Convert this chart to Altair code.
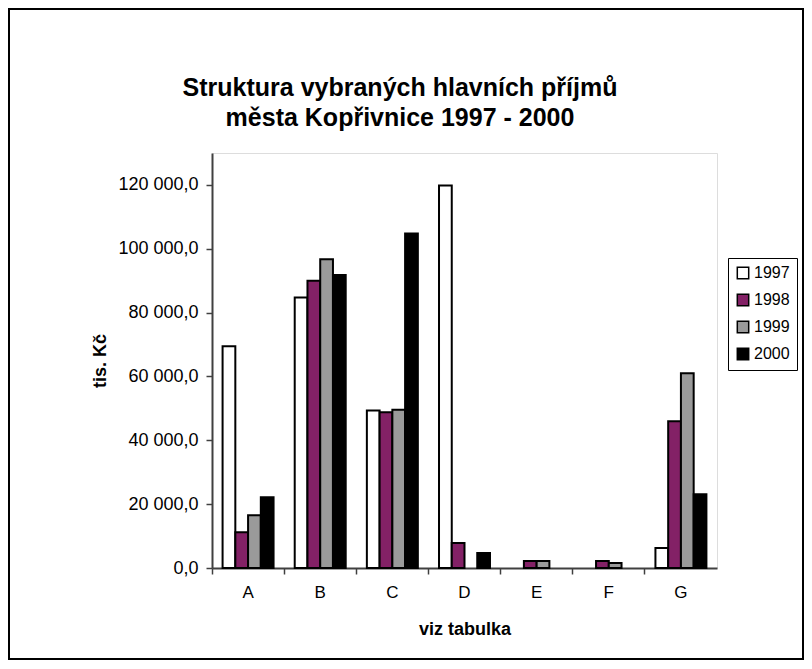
import altair as alt
import pandas as pd

categories = ["A", "B", "C", "D", "E", "F", "G"]
years = ["1997", "1998", "1999", "2000"]
v1997 = [69500, 84700, 49300, 119800, 0, 0, 6300]
v1998 = [11200, 90000, 48800, 7800, 2200, 2200, 46000]
v1999 = [16500, 96700, 49600, 0, 2200, 1600, 61000]
v2000 = [22200, 91800, 104800, 4700, 0, 0, 23100]
y_ticks = [0, 20000, 40000, 60000, 80000, 100000, 120000]
colors = ["#ffffff", "#832166", "#9a9a9a", "#000000"]
title_lines = ["Struktura vybraných hlavních příjmů", "města Kopřivnice 1997 - 2000"]

series = {"1997": v1997, "1998": v1998, "1999": v1999, "2000": v2000}
rows = []
for yr in years:
    for c, v in zip(categories, series[yr]):
        rows.append({"cat": c, "year": yr, "value": v})
df = pd.DataFrame(rows)

FONT = "Liberation Sans"
W, H = 505, 415
PL, PT = 204, 145
TOTW, TOTH = 796, 652
PR = TOTW - PL - W
PB = TOTH - PT - H

bars = alt.Chart(df).transform_filter("datum.value > 0").mark_bar(
    stroke="black", strokeWidth=2
).encode(
    x=alt.X("cat:N", sort=categories,
            scale=alt.Scale(domain=categories, paddingInner=0, paddingOuter=0),
            axis=alt.Axis(title="viz tabulka", bandPosition=0, labelAngle=0,
                          labelFontSize=17, labelFont=FONT, labelColor="black",
                          labelPadding=10, titleFontSize=18, titleFont=FONT,
                          titleFontWeight="bold", titleColor="black", titlePadding=20,
                          tickSize=6, tickColor="#404040", tickWidth=1.5,
                          domainColor="#404040", domainWidth=2)),
    xOffset=alt.XOffset("year:N", sort=years,
                        scale=alt.Scale(domain=years, paddingInner=0, paddingOuter=0.83)),
    y=alt.Y("value:Q",
            scale=alt.Scale(domain=[0, 130000], nice=False, zero=True),
            axis=alt.Axis(title="tis. Kč", values=y_ticks, grid=False,
                          labelExpr="replace(replace(format(datum.value, ',.1f'), ',', ' '), '.', ',')",
                          labelFontSize=18, labelFont=FONT, labelColor="black",
                          labelPadding=8, titleFontSize=18, titleFont=FONT,
                          titleFontWeight="bold", titleColor="black", titlePadding=8,
                          tickSize=6, tickColor="#404040", tickWidth=1.5,
                          domainColor="#404040", domainWidth=2)),
    fill=alt.Fill("year:N", sort=years,
                  scale=alt.Scale(domain=years, range=colors),
                  legend=alt.Legend(title=None, orient="none", legendX=516, legendY=105,
                                    symbolType="square", symbolSize=130,
                                    symbolStrokeColor="black", symbolStrokeWidth=1.5,
                                    labelFontSize=16, labelFont=FONT, labelColor="black",
                                    rowPadding=9, padding=7, strokeColor="black",
                                    fillColor="white", labelOffset=3)),
)

one = pd.DataFrame({"a": [0]})
border = alt.Chart(one).mark_rect(
    fillOpacity=0, stroke="black", strokeWidth=2
).encode(
    x=alt.value(-PL + 1), x2=alt.value(TOTW - PL - 1),
    y=alt.value(-PT + 1), y2=alt.value(TOTH - PT - 1),
)

title1 = alt.Chart(one).mark_text(
    text=title_lines[0], font=FONT, fontSize=25, fontWeight="bold", color="black",
    align="center", baseline="middle"
).encode(x=alt.value(392 - PL), y=alt.value(80 - PT))

title2 = alt.Chart(one).mark_text(
    text=title_lines[1], font=FONT, fontSize=25, fontWeight="bold", color="black",
    align="center", baseline="middle"
).encode(x=alt.value(392 - PL), y=alt.value(110 - PT))

chart = alt.layer(bars, border, title1, title2).properties(
    width=W, height=H,
    autosize=alt.AutoSizeParams(type="none"),
    padding={"left": PL, "top": PT, "right": PR, "bottom": PB},
).configure_view(stroke="#808080", strokeWidth=2).configure(background="white")

chart.save("out.html", embed_options={"renderer": "svg", "actions": False})
